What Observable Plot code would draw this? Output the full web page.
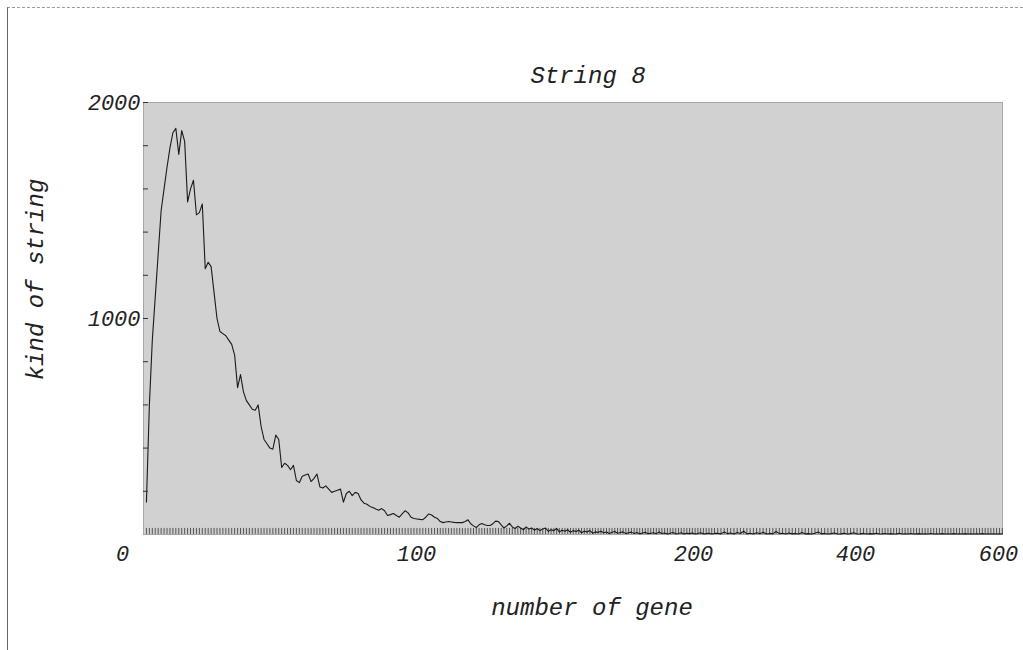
<!DOCTYPE html>
<html>
<head>
<meta charset="utf-8">
<script src="https://cdn.jsdelivr.net/npm/d3@7"></script>
<script src="https://cdn.jsdelivr.net/npm/@observablehq/plot@0.6"></script>
<style>
  html, body { margin: 0; padding: 0; background: #fff; }
  #wrap { position: relative; width: 1023px; height: 650px; overflow: hidden; }
  #border { position: absolute; left: 7px; top: 7px; width: 1016px; height: 643px;
            border-top: 1px dashed #9a9a9a; border-left: 1px solid #666; box-sizing: border-box; }
  #chart { position: absolute; left: 0; top: 0; }
</style>
</head>
<body>
<div id="wrap"><div id="border"></div><div id="chart"></div></div>
<script>
const title = "String 8";
const xLabel = "number of gene";
const yLabel = "kind of string";

const xTicks = [0, 100, 200, 400, 600];
const yLabelTicks = [1000, 2000];
const yMinorTicks = [200, 400, 600, 800, 1000, 1200, 1400, 1600, 1800, 2000];

const genes = [
  1,2,3,4,5,6,7,8,9,10,11,12,13,14,15,16,17,18,19,20,
  21,22,23,24,25,26,27,28,29,30,31,32,33,34,35,36,37,38,39,40,
  41,42,43,44,45,46,47,48,49,50,51,52,53,54,55,56,57,58,59,60,
  61,62,63,64,65,66,67,68,69,70,71,72,73,74,75,76,77,78,79,80,
  81,82,83,84,85,86,87,88,89,90,91,92,93,94,95,96,97,98,99,100,
  101,102,103,104,105,106,107,108,109,110,111,112,113,114,115,116,117,118,119,120,
  121,122,123,124,125,126,127,128,129,130,131,132,133,134,135,136,137,138,139,140,
  141,142,143,144,145,146,147,148,149,150,151,152,153,154,155,156,157,158,159,160,
  161,162,163,164,165,166,167,168,169,170,171,172,173,174,175,176,177,178,179,180,
  181,182,183,184,185,186,187,188,189,190,191,192,193,194,195,196,197,198,199,200,
  204,208,212,216,220,224,228,232,236,240,244,248,252,256,260,264,268,272,276,280,
  284,288,292,296,300,304,308,312,316,320,324,328,332,336,340,344,348,352,356,360,
  364,368,372,376,380,384,388,392,396,400,404,408,412,416,420,424,428,432,436,440,
  444,448,452,456,460,464,468,472,476,480,484,488,492,496,500,504,508,512,516,520,
  524,528,532,536,540,544,548,552,556,560,564,568,572,576
];
const counts = [
  150,600,900,1100,1300,1500,1600,1700,1790,1860,1880,1760,1870,1820,1540,1600,1640,1480,1490,1530,
  1230,1260,1240,1120,1000,940,930,920,900,880,830,680,740,660,620,600,580,575,600,500,
  440,420,400,395,460,440,310,330,320,300,320,250,240,270,275,280,245,260,280,220,
  215,225,210,195,200,205,210,150,190,200,180,195,190,160,145,140,130,125,118,112,
  120,110,88,92,97,88,80,95,110,100,80,74,72,70,69,80,95,90,80,74,
  60,55,58,60,58,56,55,55,55,60,68,50,40,32,45,51,45,42,42,50,
  62,60,45,30,40,52,35,28,38,30,22,35,25,30,20,28,18,25,30,15,
  22,18,28,12,20,15,22,10,18,14,20,8,15,12,18,6,12,10,15,8,
  12,5,10,14,6,9,12,4,8,11,5,9,3,7,10,4,6,8,3,12,
  5,7,2,6,9,3,5,8,2,6,4,7,2,5,8,3,4,6,2,5,
  6,3,12,4,7,2,9,5,15,3,6,2,8,4,10,2,5,3,14,4,
  6,2,7,3,5,2,9,3,4,2,6,12,3,5,2,4,7,2,3,6,
  2,4,8,2,3,5,2,4,3,6,2,3,5,2,4,2,3,6,2,3,
  2,5,2,3,4,2,3,2,5,2,3,2,4,2,3,2,4,2,3,2,
  4,2,3,2,3,2,4,2,3,2,3,2,3,2
];

const data = genes.map((g, i) => ({gene: g, count: counts[i]}));

const font = "'Liberation Mono', 'DejaVu Sans Mono', monospace";

const svg = Plot.plot({
  width: 1023,
  height: 650,
  marginLeft: 143,
  marginRight: 21,
  marginTop: 102,
  marginBottom: 116,
  style: {fontFamily: font, color: "#222", background: "transparent", overflow: "visible"},
  x: {type: "linear", domain: xTicks, range: [143, 437, 714, 876, 1019]},
  y: {type: "linear", domain: [0, 2000]},
  marks: [
    Plot.frame({fill: "url(#dither)", stroke: "#a8a8a8"}),
    Plot.ruleX(data, {x: "gene", y1: 0, y2: 28, stroke: "#555", strokeWidth: 1}),
    Plot.line(data, {x: "gene", y: "count", stroke: "#1a1a1a", strokeWidth: 1.1}),
    Plot.axisY(yMinorTicks, {tickSize: 5, dx: 5, tickFormat: () => "", label: null, stroke: "#333"}),
    Plot.axisY(yLabelTicks, {tickSize: 0, tickPadding: 3, tickFormat: d => String(d), label: null, fontSize: 22, fontStyle: "italic", fill: "#222"}),
    Plot.axisX(xTicks, {tickSize: 0, tickPadding: 11, dx: -21, tickFormat: d => String(d), label: null, fontSize: 22, fontStyle: "italic", fill: "#222"}),
    Plot.text([title], {frameAnchor: "top", textAnchor: "middle", lineAnchor: "middle", dx: 15, dy: -27, fontSize: 24, fontStyle: "italic", fill: "#222"}),
    Plot.text([xLabel], {frameAnchor: "bottom", textAnchor: "middle", lineAnchor: "middle", dx: 19, dy: 73, fontSize: 24, fontStyle: "italic", fill: "#222"}),
    Plot.text([yLabel], {frameAnchor: "left", textAnchor: "middle", lineAnchor: "middle", dx: -108, dy: -39, rotate: -90, fontSize: 24, fontStyle: "italic", fill: "#222"})
  ]
});

const NS = "http://www.w3.org/2000/svg";
const defs = document.createElementNS(NS, "defs");
const pat = document.createElementNS(NS, "pattern");
pat.setAttribute("id", "dither");
pat.setAttribute("width", "2");
pat.setAttribute("height", "2");
pat.setAttribute("patternUnits", "userSpaceOnUse");
[[0,0,2,2,"#ffffff"],[0,0,1,1,"#a2a2a2"],[1,1,1,1,"#a2a2a2"]].forEach(([x,y,w,h,c]) => {
  const r = document.createElementNS(NS, "rect");
  r.setAttribute("x", x); r.setAttribute("y", y);
  r.setAttribute("width", w); r.setAttribute("height", h);
  r.setAttribute("fill", c);
  r.setAttribute("shape-rendering", "crispEdges");
  pat.appendChild(r);
});
defs.appendChild(pat);
svg.insertBefore(defs, svg.firstChild);

document.getElementById("chart").appendChild(svg);
</script>
</body>
</html>
